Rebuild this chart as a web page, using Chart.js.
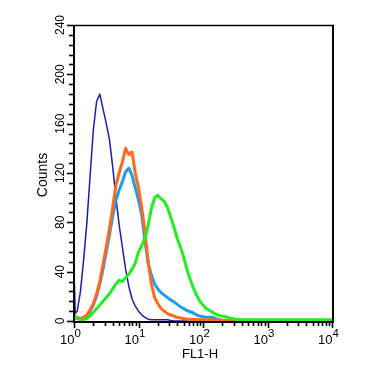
<!DOCTYPE html>
<html>
<head>
<meta charset="utf-8">
<script src="https://cdn.jsdelivr.net/npm/chart.js@4/dist/chart.umd.min.js"></script>
<style>
  body { margin: 0; background: #fff; }
  canvas { display: block; }
</style>
</head>
<body>
<canvas id="histChart" width="376" height="374"></canvas>
<script>
// channel positions in decades of FL1-H (log10), shared by all histograms
const decades = [0, 0.02, 0.05, 0.10, 0.15, 0.20, 0.25, 0.30, 0.35, 0.40, 0.45, 0.50, 0.55, 0.60, 0.65,
  0.70, 0.75, 0.80, 0.85, 0.90, 0.95, 1.00, 1.05, 1.10, 1.15, 1.20, 1.25, 1.30, 1.35, 1.40, 1.45,
  1.50, 1.55, 1.60, 1.65, 1.70, 1.75, 1.80, 1.85, 1.90, 1.95, 2.00, 2.05, 2.10, 2.15, 2.20, 2.25,
  2.30, 2.35, 2.40, 2.45, 2.50, 2.6, 2.8, 3.0, 3.5, 4.0];

// counts per channel
const navyCounts = [42, 6, 8, 24, 50, 80, 118, 155, 178, 184, 172, 160, 147, 125, 100,
  78, 60, 42, 28, 18, 12, 8, 5, 3, 1.5, 1, 1, 1, 1, 1, 1,
  0.5, 0, 0, 0, 0, 0, 0, 0, 0, 0, 0, 0, 0, 0, 0, 0,
  0, 0, 0, 0, 0, 0, 0, 0, 0, 0];
const orangeCounts = [4, 3.5, 3, 2, 3, 5, 9, 14, 22, 32, 46, 60, 75, 92, 110,
  120, 129, 140, 135, 137, 120, 108, 92, 72, 48, 30, 19, 14, 10, 8, 6,
  5, 4, 3, 2.5, 2, 1.6, 1.3, 1.2, 1.2, 1.1, 1, 1, 1, 1, 0.8, 0.8,
  0.6, 0.5, 0.3, 0, 0, 0, 0, 0, 0, 0];
const skyCounts = [3, 2.5, 2, 2, 3, 4, 8, 13, 20, 30, 42, 56, 70, 85, 98,
  106, 113, 121, 124, 118, 108, 98, 86, 65, 47, 37, 30, 26, 23, 21, 19,
  17, 15.5, 13.5, 11.5, 10, 8.5, 7.5, 6.5, 5, 4, 3.5, 3, 3, 3, 2, 1,
  0.5, 0, 0, 0, 0, 0, 0, 0, 0, 0];
const greenCounts = [3.5, 3, 2, 1, 1, 2, 4, 7, 10, 13, 16, 19, 22, 26, 30,
  33, 32, 35, 38, 42, 47, 56, 61, 67, 78, 91, 100, 102, 99, 97, 92,
  84, 76, 67, 60, 52, 42, 34, 27, 21, 16, 13, 10, 8.5, 7, 5.5, 4.5,
  4, 3.5, 2.5, 2, 1.5, 1, 1, 1, 1, 1];

const xDecadeTicks = [1, 10, 100, 1000, 10000];
const xTickExponents = ["0", "1", "2", "3", "4"];
const yTicks = [0, 40, 80, 120, 160, 200, 240];
const yMinorStep = 8;

const FONT = '"Liberation Sans", Arial, Helvetica, sans-serif';

function toPoints(counts) {
  return decades.map((d, i) => ({ x: Math.pow(10, d), y: counts[i] }));
}

// draws the frame, tick marks and labels using the chart's own scales
const axesPlugin = {
  id: "axesPlugin",
  afterDraw(chart) {
    const { ctx, chartArea: a, scales } = chart;
    const x = scales.x, y = scales.y;
    ctx.save();
    ctx.strokeStyle = "#000";
    ctx.fillStyle = "#000";

    // frame
    ctx.lineWidth = 1.3;
    ctx.beginPath();
    ctx.moveTo(a.left, a.top + 0.5);
    ctx.lineTo(a.right + 2, a.top + 0.5);
    ctx.stroke();
    ctx.lineWidth = 2;
    ctx.beginPath();
    ctx.moveTo(a.right + 1, a.top);
    ctx.lineTo(a.right + 1, a.bottom + 1);
    ctx.stroke();
    ctx.beginPath();
    ctx.moveTo(a.left, a.top);
    ctx.lineTo(a.left, a.bottom + 1);
    ctx.lineTo(a.right + 2, a.bottom + 1);
    ctx.stroke();

    // y ticks
    ctx.lineWidth = 1.6;
    for (let v = 0; v <= 240; v += yMinorStep) {
      const py = Math.round(y.getPixelForValue(v)) + 0.5;
      const major = yTicks.includes(v);
      ctx.beginPath();
      ctx.moveTo(a.left - (major ? 7 : 5), py);
      ctx.lineTo(a.left, py);
      ctx.stroke();
    }

    // x ticks (log)
    xDecadeTicks.forEach((dec, i) => {
      const px = Math.round(x.getPixelForValue(dec)) + 0.5;
      ctx.beginPath();
      ctx.moveTo(px, a.bottom);
      ctx.lineTo(px, a.bottom + 7);
      ctx.stroke();
      if (i < xDecadeTicks.length - 1) {
        for (let m = 2; m <= 9; m++) {
          const mx = Math.round(x.getPixelForValue(dec * m)) + 0.5;
          ctx.beginPath();
          ctx.moveTo(mx, a.bottom);
          ctx.lineTo(mx, a.bottom + 5);
          ctx.stroke();
        }
      }
    });

    // y labels, rotated
    ctx.font = "12px " + FONT;
    ctx.textAlign = "center";
    ctx.textBaseline = "alphabetic";
    yTicks.forEach((v) => {
      const py = y.getPixelForValue(v);
      ctx.save();
      ctx.translate(a.left - 10.5, py);
      ctx.rotate(-Math.PI / 2);
      ctx.fillText(String(v), 0, 0);
      ctx.restore();
    });

    // x labels 10^n
    xDecadeTicks.forEach((dec, i) => {
      const px = x.getPixelForValue(dec);
      ctx.font = "13px " + FONT;
      ctx.textAlign = "right";
      ctx.fillText("10", px + 0.5, a.bottom + 22.5);
      ctx.font = "11.5px " + FONT;
      ctx.textAlign = "left";
      ctx.fillText(xTickExponents[i], px + 0.5, a.bottom + 16);
    });

    // axis titles
    ctx.font = "13px " + FONT;
    ctx.textAlign = "center";
    ctx.fillText("FL1-H", (a.left + a.right) / 2 - 3, a.bottom + 37);
    ctx.save();
    ctx.translate(a.left - 27, (a.top + a.bottom) / 2 + 2);
    ctx.rotate(-Math.PI / 2);
    ctx.font = "14px " + FONT;
    ctx.fillText("Counts", 0, 0);
    ctx.restore();

    ctx.restore();
  }
};

const ctx = document.getElementById("histChart").getContext("2d");
new Chart(ctx, {
  type: "line",
  data: {
    datasets: [
      { label: "green", data: toPoints(greenCounts), borderColor: "#22ee22", borderWidth: 3 },
      { label: "orange", data: toPoints(orangeCounts), borderColor: "#ff6a1a", borderWidth: 3 },
      { label: "sky", data: toPoints(skyCounts), borderColor: "#1e9cf0", borderWidth: 3 },
      { label: "navy", data: toPoints(navyCounts), borderColor: "#1c1cb4", borderWidth: 1.5 }
    ]
  },
  options: {
    responsive: false,
    animation: false,
    parsing: true,
    elements: {
      point: { radius: 0 },
      line: { tension: 0, borderJoinStyle: "round", fill: false }
    },
    layout: { padding: { left: 74, top: 25, right: 44, bottom: 53 } },
    scales: {
      x: { type: "logarithmic", min: 1, max: 10000, display: false },
      y: { type: "linear", min: 0, max: 240, display: false }
    },
    plugins: {
      legend: { display: false },
      tooltip: { enabled: false }
    }
  },
  plugins: [axesPlugin]
});
</script>
</body>
</html>
